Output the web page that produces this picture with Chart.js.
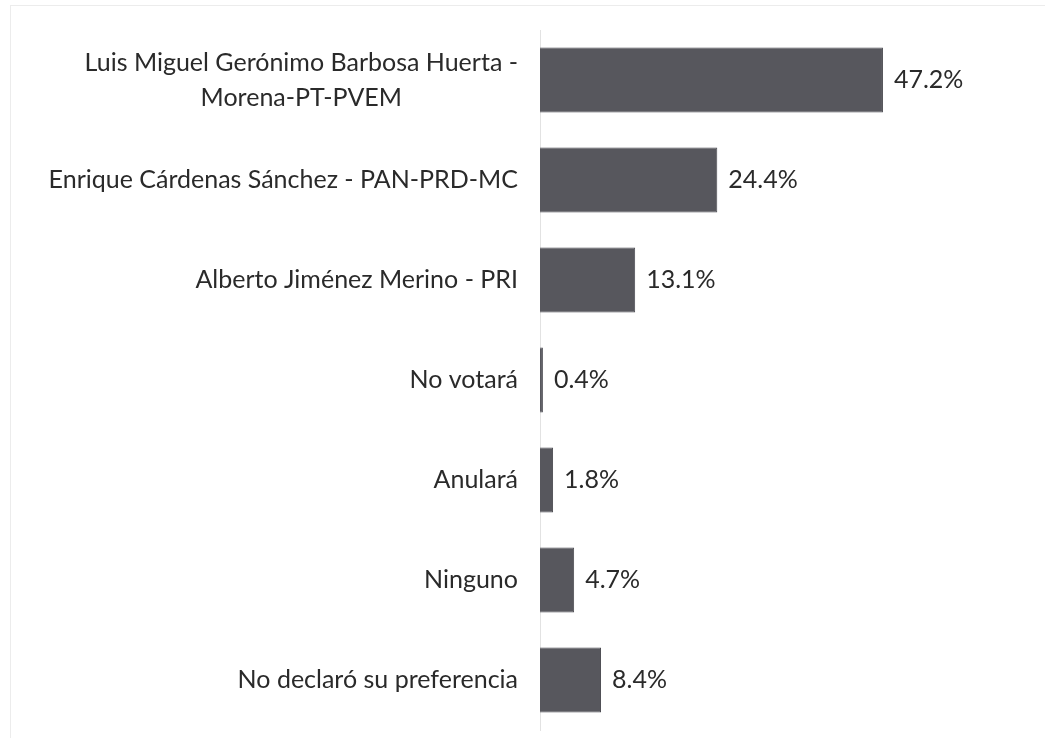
<!DOCTYPE html>
<html lang="es">
<head>
<meta charset="utf-8">
<title>Preferencia de voto</title>
<script src="https://cdn.jsdelivr.net/npm/chart.js@4/dist/chart.umd.min.js"></script>
<style>
  html, body { margin: 0; padding: 0; background: #fff; }
  #wrap { position: relative; width: 1045px; height: 746px; }
  #frame { position: absolute; left: 10px; top: 5px; right: 0; bottom: 8px;
           border-left: 1px solid #ececec; border-top: 1px solid #ececec; pointer-events: none; }
</style>
</head>
<body>
<div id="wrap">
  <canvas id="chart" width="1045" height="746"></canvas>
  <div id="frame"></div>
</div>
<script>
// categorías (las de varias líneas van como arreglo)
var categories = [
  ['Luis Miguel Gerónimo Barbosa Huerta -', 'Morena-PT-PVEM'],
  ['Enrique Cárdenas Sánchez - PAN-PRD-MC'],
  ['Alberto Jiménez Merino - PRI'],
  ['No votará'],
  ['Anulará'],
  ['Ninguno'],
  ['No declaró su preferencia']
];
var values = [47.2, 24.4, 13.1, 0.4, 1.8, 4.7, 8.4];
var valueLabels = ['47.2%', '24.4%', '13.1%', '0.4%', '1.8%', '4.7%', '8.4%'];

var FONT = "Lato, 'Open Sans', sans-serif";
var TEXT = '#2a2a2a';

/* etiquetas del eje y centradas por bloque + valores al final de cada barra */
var labelsPlugin = {
  id: 'labelsPlugin',
  afterDatasetsDraw: function (chart) {
    var ctx = chart.ctx;
    var y = chart.scales.y;
    var meta = chart.getDatasetMeta(0);
    ctx.save();
    ctx.fillStyle = TEXT;
    ctx.font = '25px ' + FONT;
    ctx.textBaseline = 'middle';
    var right = chart.chartArea.left - 22;
    var lh = 35;
    categories.forEach(function (lines, i) {
      var cy = y.getPixelForValue(i);
      var w = 0;
      lines.forEach(function (l) { w = Math.max(w, ctx.measureText(l).width); });
      var cx = right - w / 2;
      ctx.textAlign = 'center';
      lines.forEach(function (l, k) {
        ctx.fillText(l, cx, cy + (k - (lines.length - 1) / 2) * lh);
      });
    });
    ctx.textAlign = 'left';
    meta.data.forEach(function (bar, i) {
      ctx.fillText(valueLabels[i], bar.x + 11, bar.y);
    });
    ctx.restore();
  }
};

new Chart(document.getElementById('chart'), {
  type: 'bar',
  data: {
    labels: categories,
    datasets: [{
      data: values,
      backgroundColor: '#57575d',
      borderColor: '#4a4a50',
      borderWidth: 1,
      barPercentage: 1,
      categoryPercentage: 0.65
    }]
  },
  options: {
    indexAxis: 'y',
    responsive: false,
    animation: false,
    layout: { padding: { left: 0, right: 0, top: 30, bottom: 16 } },
    plugins: { legend: { display: false }, tooltip: { enabled: false } },
    scales: {
      x: { display: false, min: 0, max: 69.5 },
      y: {
        grid: { display: false },
        border: { display: true, color: '#e2e2e2', width: 1 },
        ticks: { display: false },
        afterFit: function (s) { s.width = 540; }
      }
    }
  },
  plugins: [labelsPlugin]
});
</script>
</body>
</html>
